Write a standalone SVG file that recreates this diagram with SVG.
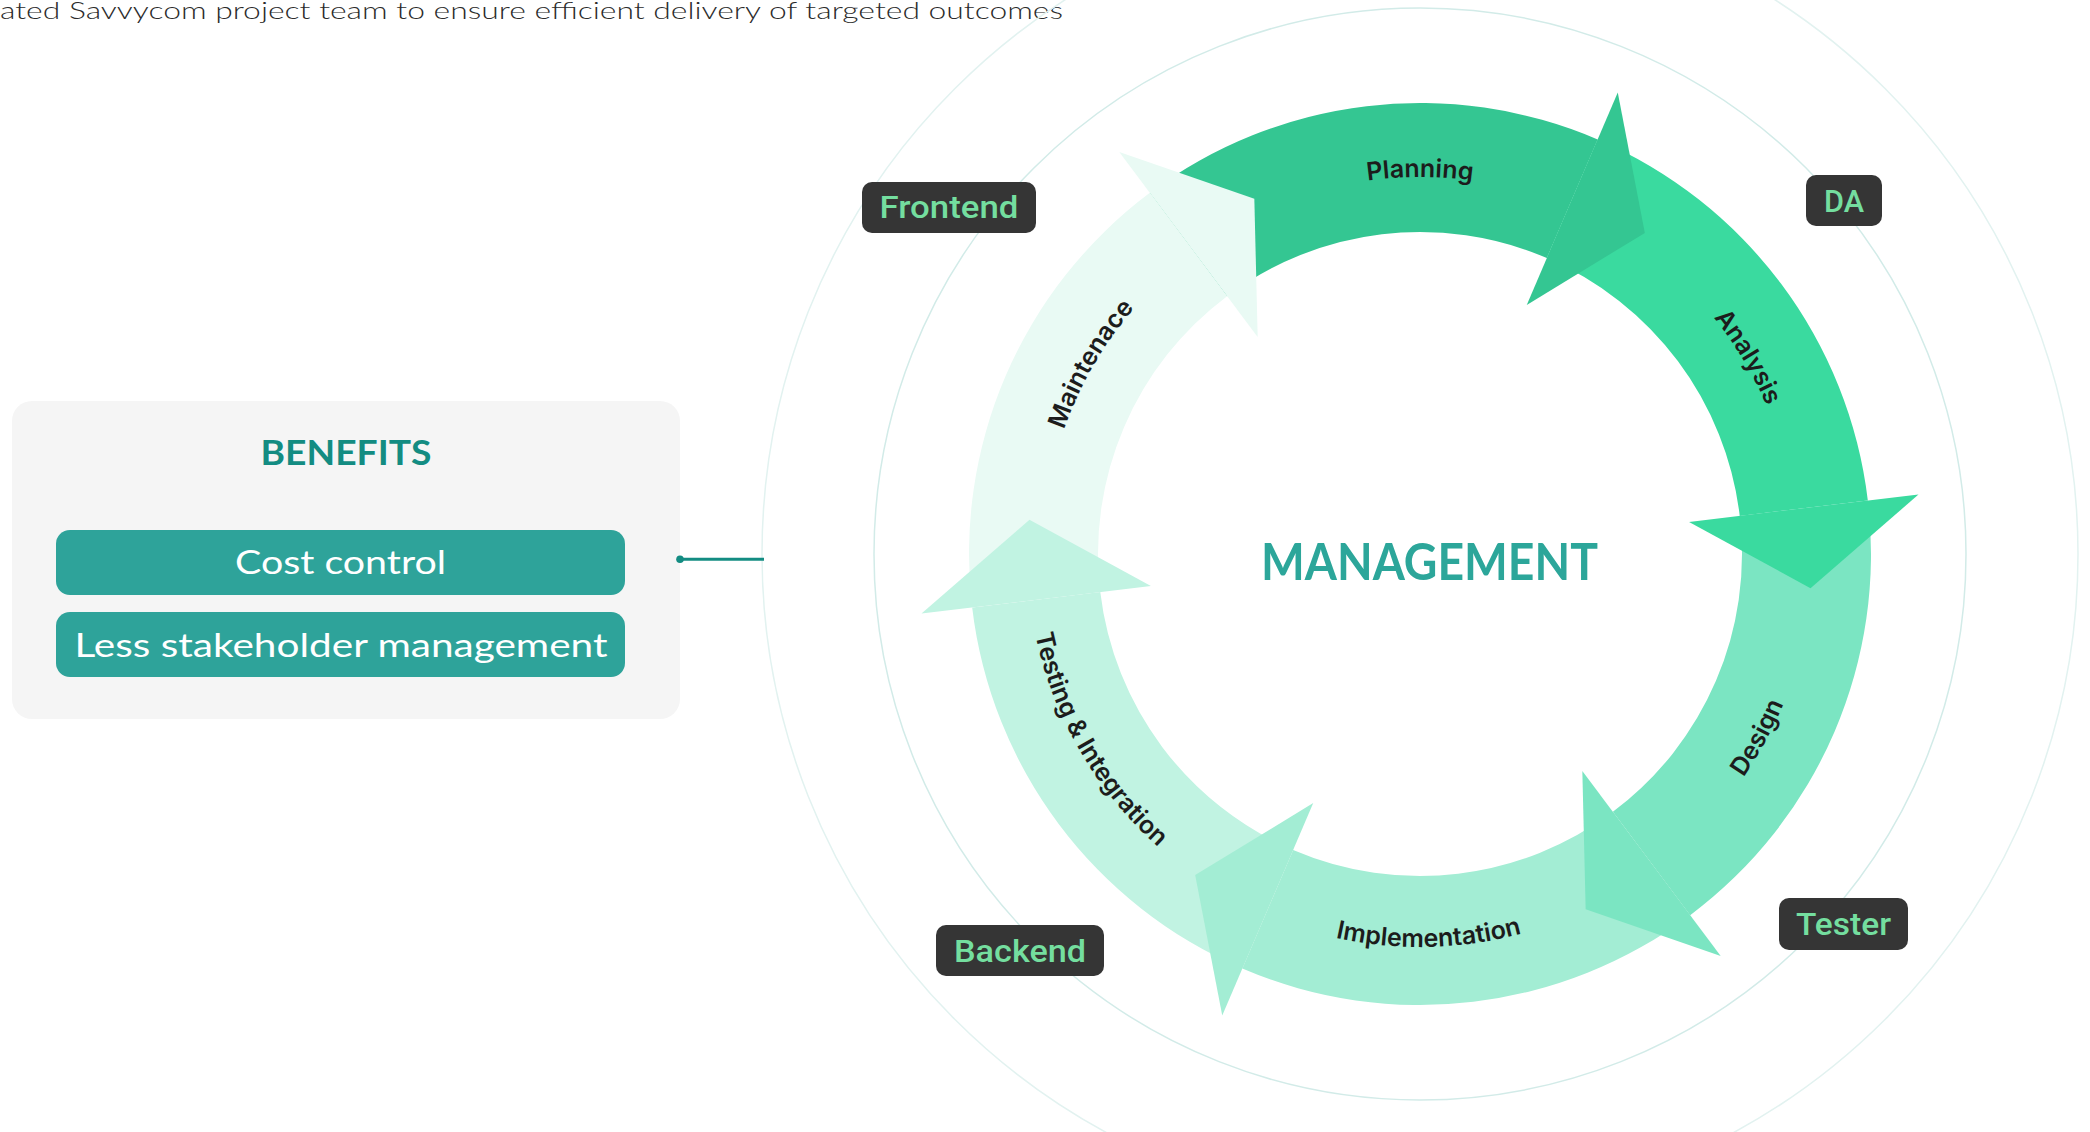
<svg xmlns="http://www.w3.org/2000/svg" width="2090" height="1132" viewBox="0 0 2090 1132">
<style>
.ring{fill:none;stroke-width:1.5}
.lbl{font-family:Inter,"Open Sans","Liberation Sans",sans-serif;font-weight:600;font-size:25px;fill:#1c1c1c}
.tagbox{fill:#353535}
.tagtxt{font-family:Roboto,"Liberation Sans",sans-serif;font-weight:500;font-size:31px;fill:#74DE9F}
.benbox{fill:#2EA39A}
.bentxt{font-family:Lato,"Liberation Sans",sans-serif;font-size:33px;fill:#ffffff}
</style>
<defs>
<path id="pPlan" d="M1177.67,265.20 A377,377 0 0 1 1662.33,265.20"/>
<path id="pAna" d="M1542.74,197.54 A377,377 0 0 1 1792.36,612.97"/>
<path id="pMaint" d="M1048.73,619.47 A377,377 0 0 1 1291.06,199.74"/>
<path id="pDes" d="M1564.03,919.66 A393,393 0 0 0 1805.11,475.65"/>
<path id="pImpl" d="M1174.28,860.71 A393,393 0 0 0 1679.42,849.19"/>
<path id="pTest" d="M1032.97,485.76 A393,393 0 0 0 1285.59,923.30"/>
</defs>
<rect width="2090" height="1132" fill="#ffffff"/>
<text x="0" y="18.5" font-family="Lato,'Liberation Sans',sans-serif" font-weight="300" font-size="23" fill="#2b2b2b" textLength="1063" lengthAdjust="spacingAndGlyphs">ated Savvycom project team to ensure efficient delivery of targeted outcomes</text>
<g id="guide-rings">
<circle class="ring" cx="1420" cy="554" r="658" stroke="#e2f2f0"/>
<circle class="ring" cx="1420" cy="554" r="546" stroke="#d2ebe8"/>
</g>
<g id="benefits">
<rect x="12" y="401" width="668" height="318" rx="20" fill="#F5F5F5"/>
<text x="346" y="465" text-anchor="middle" font-family="Lato,'Liberation Sans',sans-serif" font-weight="700" font-size="34" fill="#138C82" textLength="171" lengthAdjust="spacingAndGlyphs">BENEFITS</text>
<g id="cost-control">
<rect class="benbox" x="56" y="530" width="569" height="65" rx="14"/>
<text class="bentxt" x="340.5" y="574" text-anchor="middle" textLength="211" lengthAdjust="spacingAndGlyphs">Cost control</text>
</g>
<g id="less-stakeholder">
<rect class="benbox" x="56" y="612" width="569" height="65" rx="14"/>
<text class="bentxt" x="341" y="656.5" text-anchor="middle" textLength="533" lengthAdjust="spacingAndGlyphs">Less stakeholder management</text>
</g>
</g>
<g id="connectors">
<line x1="680" y1="559.3" x2="764" y2="559.3" stroke="#138C82" stroke-width="3"/>
<circle cx="680" cy="559.3" r="3.8" fill="#138C82"/>
</g>
<g id="cycle">
<g id="bodies">
<path id="body-planning" fill="#34C692" d="M1149.84,192.87 A451,451 0 0 1 1597.67,139.47 L1546.85,258.04 A322,322 0 0 0 1227.12,296.16 Z"/>
<path id="body-analysis" fill="#3ADA9F" d="M1597.67,139.47 A451,451 0 0 1 1867.83,500.60 L1739.74,515.88 A322,322 0 0 0 1546.85,258.04 Z"/>
<path id="body-design" fill="#7BE5C2" d="M1867.83,500.60 A451,451 0 0 1 1690.16,915.13 L1612.88,811.84 A322,322 0 0 0 1739.74,515.88 Z"/>
<path id="body-implementation" fill="#A3EDD4" d="M1690.16,915.13 A451,451 0 0 1 1242.33,968.53 L1293.15,849.96 A322,322 0 0 0 1612.88,811.84 Z"/>
<path id="body-testing" fill="#C1F3E2" d="M1242.33,968.53 A451,451 0 0 1 972.17,607.40 L1100.26,592.12 A322,322 0 0 0 1293.15,849.96 Z"/>
<path id="body-maintenance" fill="#E9FAF4" d="M972.17,607.40 A451,451 0 0 1 1149.84,192.87 L1227.12,296.16 A322,322 0 0 0 1100.26,592.12 Z"/>
</g>
<g id="heads">
<polygon id="head-planning" fill="#34C692" points="1526.76,304.91 1617.76,92.59 1644.84,232.89"/>
<polygon id="head-analysis" fill="#3ADA9F" points="1689.09,521.91 1918.47,494.56 1810.51,588.17"/>
<polygon id="head-design" fill="#7BE5C2" points="1582.33,771.00 1720.71,955.97 1585.67,909.27"/>
<polygon id="head-implementation" fill="#A3EDD4" points="1313.24,803.09 1222.24,1015.41 1195.16,875.11"/>
<polygon id="head-testing" fill="#C1F3E2" points="1150.91,586.09 921.53,613.44 1029.49,519.83"/>
<polygon id="head-maintenance" fill="#E9FAF4" points="1257.67,337.00 1119.29,152.03 1254.33,198.73"/>
</g>
<g id="labels">
<text class="lbl" text-anchor="middle"><textPath href="#pPlan" startOffset="50%">Planning</textPath></text>
<text class="lbl" text-anchor="middle"><textPath href="#pAna" startOffset="50%">Analysis</textPath></text>
<text class="lbl" text-anchor="middle"><textPath href="#pDes" startOffset="50%">Design</textPath></text>
<text class="lbl" text-anchor="middle"><textPath href="#pImpl" startOffset="50%">Implementation</textPath></text>
<text class="lbl" text-anchor="middle"><textPath href="#pTest" startOffset="50%">Testing &amp; Integration</textPath></text>
<text class="lbl" text-anchor="middle"><textPath href="#pMaint" startOffset="50%">Maintenace</textPath></text>
</g>
</g>
<g id="management">
<text x="1429.5" y="580" text-anchor="middle" font-family="Lato,'Liberation Sans',sans-serif" font-weight="700" font-size="51" fill="#2CA69A" textLength="337" lengthAdjust="spacingAndGlyphs">MANAGEMENT</text>
</g>
<g id="tag-frontend">
<rect class="tagbox" x="862" y="182" width="174" height="51" rx="10"/>
<text class="tagtxt" x="949" y="218" text-anchor="middle" textLength="139" lengthAdjust="spacingAndGlyphs">Frontend</text>
</g>
<g id="tag-da">
<rect class="tagbox" x="1806" y="175" width="76" height="51" rx="10"/>
<text class="tagtxt" x="1844" y="212" text-anchor="middle" textLength="40" lengthAdjust="spacingAndGlyphs">DA</text>
</g>
<g id="tag-tester">
<rect class="tagbox" x="1779" y="898" width="129" height="52" rx="10"/>
<text class="tagtxt" x="1843.5" y="935" text-anchor="middle" textLength="95" lengthAdjust="spacingAndGlyphs">Tester</text>
</g>
<g id="tag-backend">
<rect class="tagbox" x="936" y="925" width="168" height="51" rx="10"/>
<text class="tagtxt" x="1020" y="962" text-anchor="middle" textLength="132" lengthAdjust="spacingAndGlyphs">Backend</text>
</g>
</svg>
